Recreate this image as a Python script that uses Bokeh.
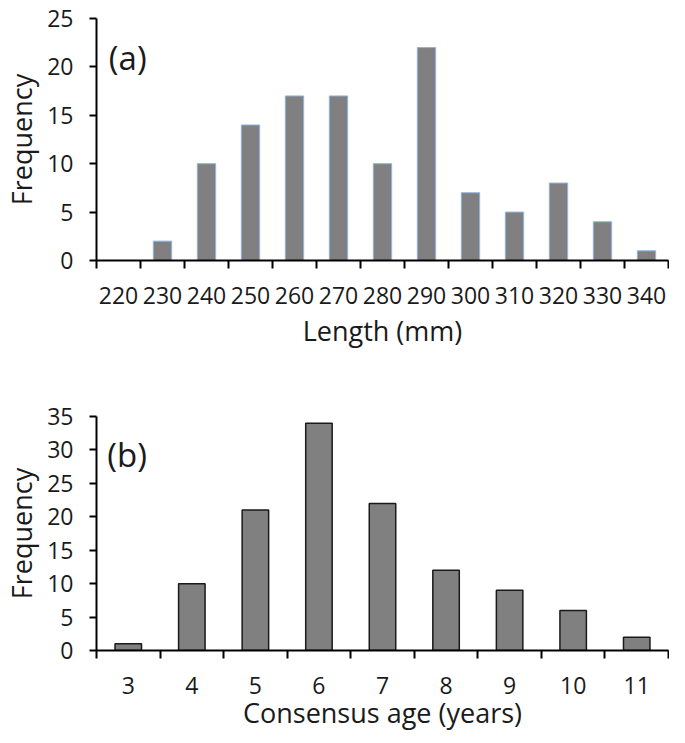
import numpy as np
from bokeh.plotting import figure
from bokeh.layouts import column
from bokeh.models import FixedTicker, Range1d, Label
from bokeh.embed import file_html
from bokeh.resources import INLINE

# ---- data ----
length_bins = ["220", "230", "240", "250", "260", "270", "280", "290", "300", "310", "320", "330", "340"]
length_freq = [0, 2, 10, 14, 17, 17, 10, 22, 7, 5, 8, 4, 1]
age_bins = ["3", "4", "5", "6", "7", "8", "9", "10", "11"]
age_freq = [1, 10, 21, 34, 22, 12, 9, 6, 2]
length_yticks = [0, 5, 10, 15, 20, 25]
age_yticks = [0, 5, 10, 15, 20, 25, 30, 35]

FONT = "Open Sans"
TICK_SIZE = "23px"
LABEL_SIZE = "27px"
TEXT_COLOR = "#1a1a1a"
BAR_W = 1 / 2.4


def make_panel(cats, vals, yticks, xlabel, tag, tag_x, tag_y, height, top, bottom,
               line_color, line_w, xl_standoff):
    n = len(cats)
    centers = np.arange(n) + 0.5
    p = figure(width=669, height=height, output_backend="svg", toolbar_location=None,
               x_range=Range1d(0, n), y_range=Range1d(0, yticks[-1]),
               min_border_left=84, min_border_right=1, min_border_top=top,
               min_border_bottom=bottom)
    p.outline_line_color = None
    p.grid.visible = False
    p.background_fill_color = "white"
    p.border_fill_color = "white"
    p.vbar(x=centers, top=vals, width=BAR_W, bottom=0, fill_color="#808080",
           line_color=line_color, line_width=line_w)

    xa = p.xaxis[0]
    xa.ticker = FixedTicker(ticks=list(centers), minor_ticks=list(range(n + 1)))
    xa.major_label_overrides = {float(c): lab for c, lab in zip(centers, cats)}
    xa.major_tick_out = 0
    xa.major_tick_in = 0
    xa.minor_tick_out = 8
    xa.minor_tick_in = 0
    xa.minor_tick_line_color = "black"
    xa.minor_tick_line_width = 2
    xa.axis_line_color = "black"
    xa.axis_line_width = 2
    xa.major_label_standoff = 18
    xa.major_label_text_font = FONT
    xa.major_label_text_font_size = TICK_SIZE
    xa.major_label_text_color = TEXT_COLOR
    xa.axis_label = xlabel
    xa.axis_label_text_font = FONT
    xa.axis_label_text_font_size = LABEL_SIZE
    xa.axis_label_text_font_style = "normal"
    xa.axis_label_text_color = TEXT_COLOR
    xa.axis_label_standoff = xl_standoff

    ya = p.yaxis[0]
    ya.ticker = FixedTicker(ticks=yticks)
    ya.minor_tick_line_color = None
    ya.major_tick_out = 7
    ya.major_tick_in = 0
    ya.major_tick_line_width = 2
    ya.axis_line_width = 2
    ya.axis_line_color = "black"
    ya.major_label_standoff = 16
    ya.major_label_text_font = FONT
    ya.major_label_text_font_size = TICK_SIZE
    ya.major_label_text_color = TEXT_COLOR
    ya.axis_label = "Frequency"
    ya.axis_label_text_font = FONT
    ya.axis_label_text_font_size = LABEL_SIZE
    ya.axis_label_text_font_style = "normal"
    ya.axis_label_text_color = TEXT_COLOR
    ya.axis_label_standoff = 4

    p.add_layout(Label(x=tag_x, y=tag_y, text=tag, text_font=FONT, text_font_size="33px",
                       text_color=TEXT_COLOR, text_baseline="middle", text_align="left"))
    return p


pa = make_panel(length_bins, length_freq, length_yticks, "Length (mm)", "(a)", 0.28, 21.0,
                366, 18, 106, "#8db3e2", 1, 5)
pb = make_panel(age_bins, age_freq, age_yticks, "Consensus age (years)", "(b)", 0.17, 29.3,
                369, 50, 85, "#1a1a1a", 1.5, -3)

layout = column(pa, pb, spacing=0)
open("out.html", "w").write(file_html(layout, INLINE))
